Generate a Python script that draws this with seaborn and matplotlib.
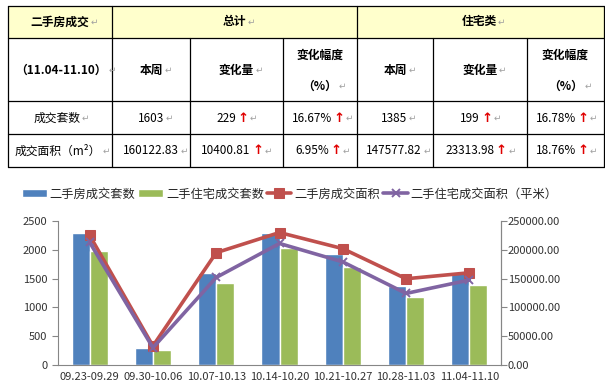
import matplotlib
matplotlib.use("Agg")
import matplotlib.pyplot as plt
import matplotlib.patches as mpatches
from matplotlib.ticker import FixedLocator, FormatStrFormatter
import seaborn as sns
import pandas as pd

sns.set_style("white")
plt.rcParams["font.family"] = ["Noto Sans CJK SC", "DejaVu Sans"]

# ---------------- data ----------------
weeks = ["09.23-09.29", "09.30-10.06", "10.07-10.13", "10.14-10.20",
         "10.21-10.27", "10.28-11.03", "11.04-11.10"]
total_units = [2300, 300, 1600, 2290, 1920, 1374, 1603]
resi_units = [1985, 260, 1420, 2035, 1710, 1186, 1385]
total_area = [225000, 33000, 195000, 230000, 202000, 149722.02, 160122.83]
resi_area = [213000, 30000, 152000, 211000, 179000, 124263.84, 147577.82]
series_names = ["二手房成交套数", "二手住宅成交套数", "二手房成交面积", "二手住宅成交面积（平米）"]

# table contents
tbl_title = "二手房成交"
tbl_period = "（11.04-11.10）"
tbl_groups = ["总计", "住宅类"]
tbl_subheads = ["本周", "变化量", "变化幅度"]
tbl_rowlabels = ["成交套数", "成交面积（m²）"]
tbl_values = [["1603", "229", "16.67%", "1385", "199", "16.78%"],
              ["160122.83", "10400.81", "6.95%", "147577.82", "23313.98", "18.76%"]]
tbl_up = [[False, True, True, False, True, True],
          [False, True, True, False, True, True]]

BLUE = "#4F81BD"
GREEN = "#9BBB59"
RED = "#C0504D"
PURPLE = "#8064A2"
AXIS = "#868686"
MARK = "#A0A0A0"

fig = plt.figure(figsize=(6.05, 3.88), dpi=100, facecolor="white")

# ---------------- table (pixel coordinates) ----------------
tab = fig.add_axes([0, 0, 1, 1])
tab.set_xlim(0, 605)
tab.set_ylim(388, 0)
tab.axis("off")

cols = [8, 112, 190, 283, 357, 433, 527, 604]
rows = [6, 38, 101, 134, 167]
tab.add_patch(mpatches.Rectangle((cols[0], rows[0]), cols[-1] - cols[0], rows[1] - rows[0],
                                 facecolor="#FFFFCC", edgecolor="none"))
for y in rows:
    tab.plot([cols[0], cols[-1]], [y, y], color="black", lw=0.9)
for x in cols:
    y0 = rows[0] if x in (cols[0], cols[1], cols[4], cols[-1]) else rows[1]
    tab.plot([x, x], [y0, rows[-1]], color="black", lw=0.9)

FS = 8.5


def cell(cx, cy, txt, bold=False, up=False, mark=True):
    t = tab.text(cx, cy, txt, ha="center", va="center", fontsize=FS,
                 fontweight="bold" if bold else "normal", color="black")
    prev = t
    if up:
        prev = tab.annotate("↑", xy=(1, 0.5), xycoords=prev, xytext=(1, 0),
                            textcoords="offset points", ha="left", va="center",
                            fontsize=FS + 1, fontweight="heavy", color="#E00000",
                            family=["DejaVu Sans"])
    if mark:
        tab.annotate("↵", xy=(1, 0.5), xycoords=prev, xytext=(1, 0),
                     textcoords="offset points", ha="left", va="center",
                     fontsize=FS - 2, color=MARK)


cell(60, 22, tbl_title, bold=True)
cell(234, 22, tbl_groups[0], bold=True)
cell(479, 22, tbl_groups[1], bold=True)
cell(61, 70, tbl_period, bold=True)
for g, start in enumerate([1, 4]):
    cell((cols[start] + cols[start + 1]) / 2, 70, tbl_subheads[0], bold=True)
    cell((cols[start + 1] + cols[start + 2]) / 2, 70, tbl_subheads[1], bold=True)
    cx = (cols[start + 2] + cols[start + 3]) / 2
    cell(cx, 55, tbl_subheads[2], bold=True, mark=False)
    cell(cx, 86, "（%）", bold=True)

cell(57, 118, tbl_rowlabels[0])
cell(58, 151, tbl_rowlabels[1])
centers = [151, 226, 312, 394, 470, 556]
for r, ry in enumerate([118, 151]):
    for c in range(6):
        cell(centers[c], ry, tbl_values[r][c], up=tbl_up[r][c])

# ---------------- chart ----------------
ax = fig.add_axes([58 / 605, 23 / 388, 443 / 605, 144 / 388])
bars = pd.DataFrame({
    "week": weeks * 2,
    "units": total_units + resi_units,
    "series": [series_names[0]] * len(weeks) + [series_names[1]] * len(weeks),
})
sns.barplot(data=bars, x="week", y="units", hue="series", palette=[BLUE, GREEN],
            width=0.57, saturation=1, ax=ax, order=weeks)
h_bar, l_bar = ax.get_legend_handles_labels()
if ax.get_legend():
    ax.get_legend().remove()

ax.set_xlim(-0.5, len(weeks) - 0.5)
ax.set_ylim(0, 2500)
ax.set_yticks(range(0, 2501, 500))
ax.set_xlabel("")
ax.set_ylabel("")
ax.xaxis.set_minor_locator(FixedLocator([i - 0.5 for i in range(len(weeks) + 1)]))
ax.tick_params(axis="x", which="major", length=0, labelsize=8, colors="#333333", pad=5)
ax.tick_params(axis="x", which="minor", length=4, color=AXIS, direction="out")
ax.tick_params(axis="y", length=4, color=AXIS, direction="out", labelsize=8,
               labelcolor="#333333", left=True)
for s in ["left", "bottom", "right"]:
    ax.spines[s].set_color(AXIS)
ax.spines["top"].set_visible(False)

ax2 = ax.twinx()
sns.lineplot(x=weeks, y=total_area, ax=ax2, color=RED, lw=2.6, marker="s",
             markersize=6.5, markeredgecolor=RED, sort=False, label=series_names[2])
sns.lineplot(x=weeks, y=resi_area, ax=ax2, color=PURPLE, lw=2.6, marker="x",
             markersize=6, markeredgewidth=1.4, markeredgecolor=PURPLE, sort=False,
             label=series_names[3])
h_line, l_line = ax2.get_legend_handles_labels()
if ax2.get_legend():
    ax2.get_legend().remove()
ax2.set_ylim(0, 250000)
ax2.set_yticks(range(0, 250001, 50000))
ax2.yaxis.set_major_formatter(FormatStrFormatter("%.2f"))
ax2.set_xlim(-0.5, len(weeks) - 0.5)
ax2.tick_params(axis="y", length=4, color=AXIS, direction="out", labelsize=8,
                labelcolor="#333333", right=True, pad=1)
ax2.spines["right"].set_color(AXIS)
ax2.spines["top"].set_visible(False)
ax2.spines["left"].set_visible(False)
ax2.spines["bottom"].set_visible(False)

fig.legend(h_bar + h_line, l_bar + l_line, loc="center",
           bbox_to_anchor=(290 / 605, 1 - 194 / 388), ncol=4, frameon=False,
           fontsize=8.8, handlelength=2.0, handleheight=0.6, handletextpad=0.25,
           columnspacing=0.25)

fig.savefig("out.png", dpi=100, facecolor="white")
